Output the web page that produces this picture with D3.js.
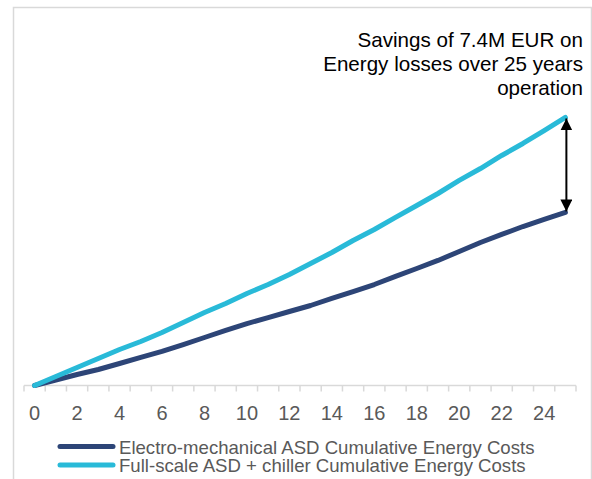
<!DOCTYPE html>
<html>
<head>
<meta charset="utf-8">
<script src="https://cdn.jsdelivr.net/npm/d3@7.9.0/dist/d3.min.js"></script>
<style>
  body { margin: 0; background: #fff; }
  svg { display: block; font-family: "Liberation Sans", Arial, sans-serif; }
</style>
</head>
<body>
<svg id="chart" width="592" height="479"></svg>
<script>
// years of operation
const years = d3.range(0, 26);
const xTickLabels = d3.range(0, 25, 2);

// cumulative energy costs (M EUR)
const electroMech = [0, 0.43, 0.86, 1.25, 1.72, 2.19, 2.66, 3.20, 3.75, 4.30, 4.84, 5.31, 5.78,
  6.25, 6.80, 7.34, 7.89, 8.52, 9.14, 9.77, 10.47, 11.17, 11.80, 12.42, 12.97, 13.52];
const fullScale = [0, 0.70, 1.41, 2.11, 2.81, 3.44, 4.14, 4.92, 5.70, 6.41, 7.19, 7.89, 8.67,
  9.53, 10.39, 11.33, 12.19, 13.13, 14.06, 15.00, 16.02, 16.95, 17.97, 18.91, 19.92, 20.94];

const seriesNames = [
  'Electro-mechanical ASD Cumulative Energy Costs',
  'Full-scale ASD + chiller Cumulative Energy Costs',
];
const seriesColors = ['#2d4577', '#29bad8'];
const annotationLines = ['Savings of 7.4M EUR on', 'Energy losses over 25 years', 'operation'];

const svg = d3.select('#chart');

// chart border
svg.append('rect')
  .attr('x', 13.5).attr('y', 7.5)
  .attr('width', 578).attr('height', 490)
  .attr('fill', 'none')
  .attr('stroke', '#d9d9d9')
  .attr('stroke-width', 1.5);

const x = d3.scaleLinear().domain([-0.5, 25.5]).range([24, 576]);
const y = d3.scaleLinear().domain([0, 25]).range([385.5, 65.5]);

// category axis: ticks between categories, labels every 2nd year
const axis = svg.append('g').attr('transform', `translate(0,${y(0)})`);
axis.append('line')
  .attr('x1', x(-0.5)).attr('x2', x(25.5))
  .attr('stroke', '#d9d9d9').attr('stroke-width', 1.5);
axis.selectAll('line.tick')
  .data(d3.range(-0.5, 26, 1))
  .join('line')
  .attr('class', 'tick')
  .attr('x1', d => x(d)).attr('x2', d => x(d))
  .attr('y1', 0).attr('y2', 6)
  .attr('stroke', '#d9d9d9').attr('stroke-width', 1.5);
axis.selectAll('text')
  .data(xTickLabels)
  .join('text')
  .attr('x', d => x(d))
  .attr('y', 34)
  .attr('text-anchor', 'middle')
  .attr('font-size', 20)
  .attr('fill', '#595959')
  .text(d => d);

const line = d3.line()
  .x((d, i) => x(years[i]))
  .y(d => y(d));

[electroMech, fullScale].forEach((vals, k) => {
  svg.append('path')
    .datum(vals)
    .attr('d', line)
    .attr('fill', 'none')
    .attr('stroke', seriesColors[k])
    .attr('stroke-width', 5)
    .attr('stroke-linecap', 'round')
    .attr('stroke-linejoin', 'round');
});

// double-headed savings arrow
const defs = svg.append('defs');
defs.append('marker')
  .attr('id', 'head')
  .attr('viewBox', '0 0 10 10')
  .attr('refX', 10).attr('refY', 5)
  .attr('markerWidth', 6).attr('markerHeight', 6)
  .attr('markerUnits', 'strokeWidth')
  .attr('orient', 'auto-start-reverse')
  .append('path')
  .attr('d', 'M0,0 L10,5 L0,10 Z')
  .attr('fill', '#000');

const last = years.length - 1;
svg.append('line')
  .attr('x1', x(years[last]) + 1).attr('x2', x(years[last]) + 1)
  .attr('y1', y(fullScale[last]) + 1)
  .attr('y2', y(electroMech[last]) - 1)
  .attr('stroke', '#000')
  .attr('stroke-width', 2)
  .attr('marker-start', 'url(#head)')
  .attr('marker-end', 'url(#head)');

svg.append('g')
  .selectAll('text')
  .data(annotationLines)
  .join('text')
  .attr('x', 583)
  .attr('y', (d, i) => 47 + i * 24)
  .attr('text-anchor', 'end')
  .attr('font-size', 20.6)
  .attr('fill', '#000')
  .text(d => d);

// legend
const legend = svg.append('g');
seriesNames.forEach((name, k) => {
  const ly = 446.5 + k * 18.5;
  legend.append('line')
    .attr('x1', 60).attr('x2', 113)
    .attr('y1', ly).attr('y2', ly)
    .attr('stroke', seriesColors[k])
    .attr('stroke-width', 5)
    .attr('stroke-linecap', 'round');
  legend.append('text')
    .attr('x', 119)
    .attr('y', ly + 7.2)
    .attr('font-size', 18.6)
    .attr('fill', '#595959')
    .text(name);
});
</script>
</body>
</html>
